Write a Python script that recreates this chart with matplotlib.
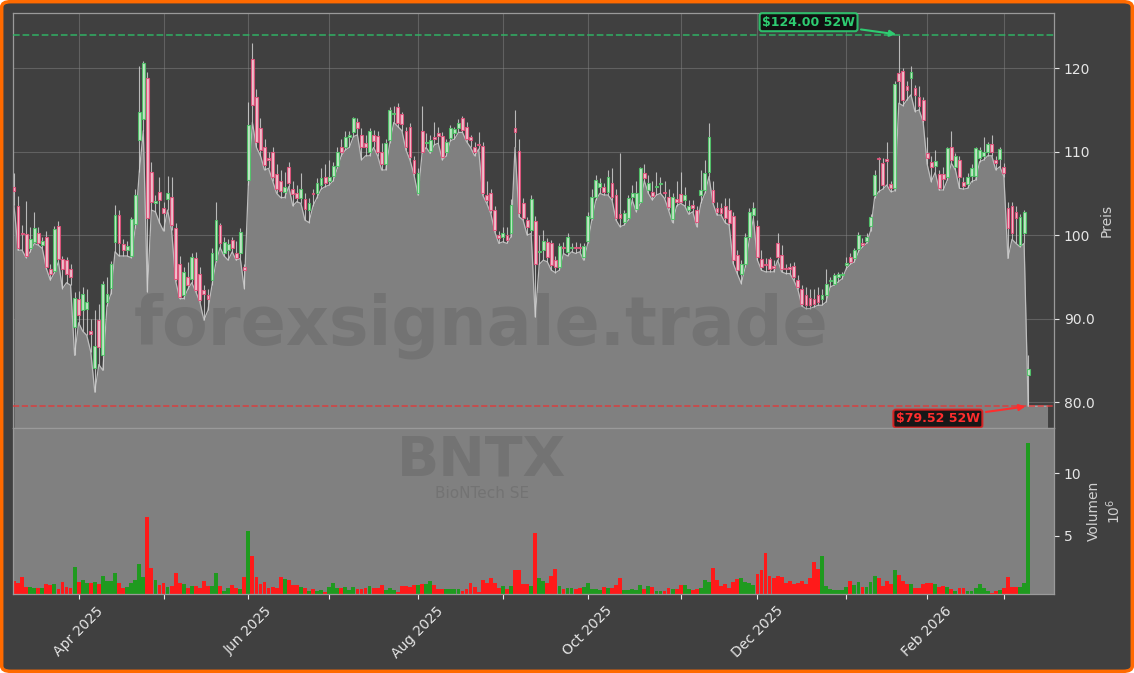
import numpy as np
import pandas as pd
import matplotlib
matplotlib.use('Agg')
import matplotlib.pyplot as plt
from matplotlib.patches import FancyBboxPatch

# BNTX daily candles, 52 weeks
holidays = ['2025-04-18', '2025-05-26', '2025-06-19', '2025-07-04', '2025-09-01',
            '2025-11-27', '2025-12-25', '2026-01-01', '2026-01-19', '2026-02-16']
dates = pd.bdate_range('2025-03-10', '2026-03-10')
dates = dates[~dates.isin(pd.to_datetime(holidays))]

open_ = [105.8, 103.5, 100.3, 100.1, 98.4, 99.2, 100.3, 98.8, 99.8, 95.9,
         95.7, 101.1, 97.1, 97.0, 95.9, 89.0, 92.3, 91.0, 91.2, 88.5,
         84.1, 89.8, 85.6, 92.0, 93.7, 99.2, 102.4, 98.9, 98.2, 97.5,
         101.3, 111.4, 113.9, 118.8, 107.6, 103.9, 105.2, 103.2, 104.3, 104.6,
         100.8, 96.6, 92.8, 95.0, 94.8, 97.2, 95.4, 93.4, 92.8, 94.6,
         97.0, 101.2, 97.8, 98.2, 99.4, 97.8, 97.8, 96.2, 106.6, 121.1,
         116.5, 112.8, 110.6, 109.2, 110.0, 107.3, 106.5, 105.2, 108.2, 105.5,
         105.0, 104.4, 104.3, 103.0, 105.1, 105.0, 106.0, 106.9, 106.5, 107.1,
         108.3, 110.6, 110.6, 111.7, 112.3, 113.6, 112.0, 111.0, 110.0, 112.0,
         111.9, 110.0, 108.5, 111.4, 114.5, 115.4, 114.5, 112.5, 113.0, 109.0,
         105.0, 112.5, 111.0, 110.1, 111.7, 112.2, 111.9, 109.9, 111.6, 112.2,
         112.8, 114.0, 113.0, 111.8, 110.5, 110.9, 110.7, 104.8, 105.0, 103.0,
         100.0, 99.8, 100.0, 100.3, 112.8, 110.1, 103.8, 101.8, 100.6, 101.7,
         98.0, 98.2, 99.2, 99.0, 97.0, 96.2, 98.6, 98.0, 98.5, 98.6,
         98.6, 97.4, 99.3, 102.1, 104.6, 105.8, 105.8, 105.2, 106.3, 104.8,
         102.5, 101.6, 102.0, 104.6, 103.1, 104.0, 107.4, 105.4, 105.2, 105.8,
         106.1, 105.2, 104.6, 101.9, 104.3, 104.9, 104.2, 103.0, 103.6, 103.0,
         104.8, 105.4, 107.6, 105.4, 103.3, 103.3, 103.5, 103.0, 102.3, 97.6,
         95.4, 96.6, 99.8, 102.4, 101.1, 97.1, 96.5, 97.1, 96.3, 99.0,
         97.6, 96.1, 96.2, 96.3, 94.6, 93.6, 92.8, 92.5, 92.4, 92.8,
         92.4, 92.8, 94.5, 94.2, 95.0, 95.2, 96.4, 97.4, 97.2, 98.3,
         99.1, 99.3, 101.1, 104.8, 109.2, 108.6, 109.1, 106.1, 105.6, 119.4,
         119.6, 117.8, 118.8, 117.6, 116.6, 116.2, 109.8, 108.8, 108.3, 107.3,
         107.3, 107.0, 110.6, 108.2, 109.0, 106.4, 106.1, 107.1, 107.1, 109.2,
         109.5, 110.0, 110.9, 109.0, 109.1, 108.2, 103.2, 103.5, 102.8, 98.8,
         100.2, 83.2]

high = [107.4, 104.7, 101.2, 104.1, 101.0, 102.8, 101.0, 99.8, 100.5, 96.5,
        101.1, 101.7, 97.5, 97.4, 96.5, 93.2, 93.3, 93.8, 93.5, 90.0,
        91.0, 91.8, 94.5, 95.0, 96.9, 103.6, 103.0, 99.5, 99.3, 102.2,
        105.5, 120.2, 120.8, 119.5, 108.8, 104.8, 107.0, 104.0, 107.1, 107.0,
        101.5, 97.5, 96.2, 96.8, 97.9, 98.0, 96.2, 94.0, 93.5, 98.5,
        104.0, 101.5, 99.8, 99.5, 99.8, 99.3, 100.8, 96.6, 116.0, 123.0,
        117.5, 114.0, 111.5, 110.0, 110.5, 108.5, 107.8, 107.5, 108.8, 106.5,
        106.0, 107.4, 105.0, 104.5, 105.5, 106.8, 108.0, 108.5, 109.0, 108.8,
        110.5, 111.5, 112.5, 112.5, 114.2, 114.0, 112.8, 112.0, 112.8, 112.6,
        112.5, 111.0, 111.5, 115.3, 115.5, 115.8, 114.8, 113.0, 113.4, 109.5,
        108.0, 115.5, 112.2, 112.0, 113.5, 113.0, 112.3, 111.5, 113.2, 113.0,
        113.9, 114.3, 113.5, 112.0, 111.2, 112.3, 111.2, 106.5, 105.5, 103.5,
        100.5, 101.0, 101.0, 104.3, 115.0, 111.5, 104.5, 102.2, 104.8, 102.3,
        100.0, 100.6, 99.6, 99.4, 97.5, 99.0, 99.2, 100.3, 99.0, 99.2,
        99.0, 99.0, 102.8, 105.5, 107.2, 106.8, 106.3, 107.8, 108.0, 105.5,
        109.8, 103.0, 104.8, 106.0, 106.5, 108.2, 108.5, 107.2, 106.5, 107.5,
        107.0, 106.5, 105.5, 105.0, 106.5, 107.5, 105.8, 104.2, 104.2, 103.5,
        107.8, 109.0, 113.4, 106.5, 104.0, 103.8, 104.5, 104.5, 102.8, 98.2,
        97.0, 100.2, 103.2, 104.0, 101.8, 98.2, 97.2, 97.4, 97.0, 100.3,
        98.8, 96.5, 96.7, 96.8, 95.2, 94.0, 93.8, 93.5, 93.6, 93.8,
        93.6, 96.0, 95.0, 95.5, 95.6, 95.6, 97.4, 97.9, 98.5, 100.4,
        99.6, 100.2, 102.5, 107.8, 109.4, 109.2, 111.2, 106.5, 118.5, 124.0,
        120.0, 118.5, 120.2, 118.0, 117.8, 116.6, 111.8, 109.5, 110.2, 107.8,
        108.2, 110.5, 112.5, 109.8, 109.5, 107.0, 107.4, 108.5, 110.6, 110.5,
        111.8, 111.2, 112.0, 109.5, 110.6, 108.6, 104.0, 104.0, 103.5, 102.5,
        103.0, 85.6]

low = [103.6, 98.2, 98.2, 97.3, 98.0, 99.0, 98.8, 98.4, 96.0, 94.6,
       95.5, 96.8, 93.6, 94.3, 94.0, 85.6, 89.5, 88.5, 88.0, 86.0,
       81.2, 84.5, 83.8, 91.5, 93.0, 98.0, 97.5, 97.5, 97.5, 97.3,
       100.8, 107.5, 112.5, 93.2, 103.0, 102.8, 101.5, 100.5, 103.0, 100.6,
       94.5, 92.4, 92.4, 93.5, 94.3, 93.2, 92.0, 89.8, 91.0, 94.0,
       96.8, 98.5, 97.5, 97.0, 98.0, 97.0, 97.2, 93.6, 106.0, 113.5,
       110.5, 109.5, 107.8, 108.0, 106.5, 105.0, 104.5, 104.5, 105.8, 103.5,
       104.0, 103.8, 101.8, 101.5, 103.5, 104.5, 105.5, 105.8, 106.0, 106.5,
       108.0, 109.5, 110.2, 110.5, 111.8, 112.0, 109.0, 109.5, 109.5, 110.5,
       109.5, 107.8, 107.8, 111.0, 113.5, 113.0, 112.5, 110.2, 109.0, 107.2,
       104.8, 109.8, 110.5, 109.8, 110.8, 111.0, 109.0, 109.5, 111.3, 111.5,
       112.3, 112.3, 111.2, 110.5, 109.5, 110.3, 104.8, 103.8, 102.6, 100.4,
       99.0, 99.2, 99.0, 99.8, 110.5, 102.2, 101.8, 100.0, 100.2, 90.2,
       96.5, 97.0, 96.8, 95.8, 95.5, 95.8, 97.8, 97.5, 98.0, 97.8,
       98.0, 97.0, 99.0, 101.8, 104.2, 105.0, 104.8, 104.8, 104.2, 101.8,
       101.0, 101.2, 101.8, 104.2, 102.8, 103.8, 106.5, 105.0, 104.2, 104.8,
       105.0, 104.4, 103.0, 101.5, 103.5, 103.8, 103.5, 102.5, 102.8, 101.0,
       103.8, 105.0, 107.0, 103.8, 102.4, 102.4, 101.5, 101.2, 96.6, 95.4,
       94.2, 96.2, 99.5, 102.0, 97.0, 95.8, 95.6, 95.6, 95.6, 97.0,
       95.6, 95.4, 95.4, 94.6, 93.5, 91.5, 91.2, 91.2, 91.4, 91.6,
       91.6, 92.0, 93.8, 94.0, 94.4, 94.8, 96.0, 96.5, 96.8, 98.0,
       98.6, 99.0, 100.5, 104.5, 105.2, 105.5, 106.0, 105.2, 105.3, 115.8,
       115.5, 116.2, 116.8, 114.8, 115.0, 113.6, 108.5, 106.4, 107.5, 105.4,
       105.4, 106.6, 108.6, 107.8, 105.6, 105.5, 105.6, 106.4, 106.6, 108.8,
       109.0, 109.5, 109.5, 107.8, 108.2, 107.0, 97.2, 99.5, 99.0, 98.6,
       99.0, 79.52]

close = [105.3, 98.4, 100.1, 97.5, 99.5, 100.8, 99.0, 99.3, 96.2, 95.4,
         100.7, 97.1, 95.9, 95.4, 95.0, 92.5, 90.4, 93.0, 92.0, 88.2,
         86.7, 86.6, 94.2, 93.0, 96.6, 102.4, 99.0, 98.2, 98.7, 101.9,
         104.8, 114.8, 120.6, 102.0, 104.0, 104.1, 104.2, 102.6, 105.0, 101.2,
         94.8, 92.6, 95.6, 94.0, 97.4, 93.4, 92.2, 93.0, 92.4, 97.8,
         101.8, 99.0, 99.2, 98.9, 98.4, 97.3, 100.4, 95.8, 113.2, 115.6,
         111.1, 110.2, 108.4, 109.0, 107.0, 105.5, 105.3, 105.8, 106.2, 104.9,
         104.4, 105.5, 103.1, 103.8, 104.9, 106.2, 106.8, 106.3, 107.0, 108.3,
         110.0, 110.0, 111.7, 112.0, 114.0, 112.8, 110.5, 110.5, 112.5, 111.3,
         110.0, 108.5, 111.0, 115.0, 114.6, 113.4, 113.3, 110.6, 109.4, 107.4,
         107.4, 110.0, 111.2, 111.4, 111.5, 111.9, 109.4, 111.1, 112.8, 112.7,
         113.4, 112.6, 111.5, 111.4, 110.0, 110.8, 105.0, 104.2, 103.0, 100.6,
         99.6, 100.2, 99.4, 103.6, 112.4, 102.7, 102.1, 101.0, 104.3, 96.6,
         98.0, 99.3, 97.4, 96.4, 96.2, 98.7, 98.5, 99.8, 98.6, 98.4,
         98.4, 98.7, 102.3, 104.6, 106.6, 106.2, 105.2, 107.0, 104.6, 102.1,
         102.0, 102.6, 104.4, 105.0, 105.0, 108.0, 106.8, 106.2, 104.7, 105.9,
         106.1, 105.0, 103.4, 104.6, 104.0, 104.0, 104.8, 103.5, 103.2, 101.6,
         105.4, 107.4, 111.8, 104.0, 102.8, 102.6, 102.0, 101.4, 97.0, 95.8,
         96.6, 99.8, 102.8, 103.2, 97.4, 96.2, 96.4, 96.0, 96.1, 97.4,
         96.0, 95.9, 96.0, 95.0, 93.8, 91.8, 91.6, 91.6, 91.8, 92.0,
         92.8, 94.2, 94.6, 95.2, 95.4, 95.4, 96.7, 96.8, 98.2, 100.0,
         98.8, 99.8, 102.2, 107.2, 109.1, 106.0, 108.9, 105.6, 118.1, 118.5,
         116.2, 117.4, 119.5, 116.8, 115.5, 113.8, 109.2, 108.2, 108.9, 105.6,
         106.7, 110.4, 109.0, 109.5, 107.0, 105.9, 107.0, 108.0, 110.4, 110.2,
         110.0, 110.9, 110.0, 108.6, 110.3, 107.4, 100.8, 100.2, 102.0, 102.2,
         102.8, 84.0]

# volume in millions of shares
volume = [1.37, 1.24, 1.72, 0.92, 0.92, 0.85, 0.85, 0.78, 1.15, 1.05,
          1.15, 0.73, 1.30, 0.87, 0.78, 2.50, 1.30, 1.45, 1.18, 1.24,
          1.30, 1.15, 1.78, 1.37, 1.37, 1.99, 1.24, 0.85, 0.92, 1.18,
          1.45, 2.77, 1.72, 6.50, 2.40, 1.45, 1.05, 1.24, 0.92, 1.00,
          2.05, 1.18, 1.10, 0.85, 0.97, 0.97, 0.85, 1.37, 0.97, 0.97,
          2.05, 0.97, 0.60, 0.78, 1.05, 0.78, 0.70, 1.72, 5.35, 3.35,
          1.72, 1.10, 1.30, 0.85, 0.92, 0.78, 1.72, 1.50, 1.45, 1.05,
          1.05, 0.87, 0.78, 0.60, 0.70, 0.57, 0.65, 0.52, 0.92, 1.18,
          0.78, 0.78, 0.92, 0.65, 0.87, 0.73, 0.70, 0.78, 0.97, 0.78,
          0.78, 1.05, 0.65, 0.78, 0.65, 0.52, 0.97, 0.97, 0.92, 1.05,
          1.05, 1.15, 1.15, 1.37, 1.05, 0.73, 0.73, 0.70, 0.70, 0.70,
          0.70, 0.60, 0.73, 1.18, 0.92, 0.52, 1.45, 1.24, 1.58, 1.18,
          0.78, 0.97, 0.70, 0.97, 2.25, 2.25, 1.15, 1.15, 0.97, 5.20,
          1.58, 1.37, 1.18, 1.78, 2.33, 0.97, 0.70, 0.85, 0.78, 0.73,
          0.85, 0.92, 1.24, 0.70, 0.70, 0.65, 0.87, 0.85, 0.85, 1.05,
          1.63, 0.65, 0.65, 0.70, 0.65, 1.05, 0.70, 1.00, 0.87, 0.60,
          0.60, 0.60, 0.78, 0.70, 0.70, 1.05, 1.05, 0.70, 0.65, 0.70,
          0.78, 1.45, 1.32, 2.38, 1.45, 0.97, 1.15, 0.78, 1.32, 1.52,
          1.58, 1.32, 1.18, 1.05, 1.90, 2.25, 3.60, 1.78, 1.58, 1.78,
          1.72, 1.18, 1.37, 1.15, 1.24, 1.37, 1.15, 1.58, 2.90, 2.33,
          3.35, 0.97, 0.70, 0.65, 0.65, 0.65, 0.87, 1.37, 1.05, 1.26,
          0.92, 0.92, 1.32, 1.78, 1.58, 0.97, 1.37, 1.15, 2.25, 1.85,
          1.40, 1.10, 1.10, 0.78, 0.78, 1.10, 1.18, 1.18, 1.10, 0.92,
          0.97, 0.92, 0.70, 0.57, 0.78, 0.78, 0.57, 0.57, 0.78, 1.10,
          0.78, 0.57, 0.45, 0.60, 0.65, 0.78, 1.72, 0.92, 0.92, 0.92,
          1.24, 12.40]

price_ticks = [80, 90, 100, 110, 120]
price_tick_labels = ['80.0', '90.0', '100', '110', '120']
high_52w = 124.00
low_52w = 79.52

o = np.array(open_); h = np.array(high); l = np.array(low); c = np.array(close)
v = np.array(volume)
x = np.arange(len(dates))
up = c >= o

BG = '#404040'
TXT = '#e6e6e6'
W, H = 1134, 673

fig = plt.figure(figsize=(W / 100, H / 100), dpi=100, facecolor='white')
fig.patches.append(FancyBboxPatch((0.0015, 0.0025), 0.997, 0.995,
                                  boxstyle='round,pad=0,rounding_size=0.008',
                                  transform=fig.transFigure, facecolor=BG,
                                  edgecolor='#ff6a00', linewidth=2.5, zorder=-10))

ax = fig.add_axes([13 / W, 1 - 428 / H, (1054 - 13) / W, (428 - 13) / H])
axv = fig.add_axes([13 / W, 1 - 594 / H, (1054 - 13) / W, (594 - 428) / H], sharex=ax)

# --- price panel
ax.set_facecolor(BG)
ax.set_axisbelow(True)
ymin, ymax = 76.9, 126.6
xs = np.append(x, x[-1] + 4.8)
ys = np.append(l, l[-1])
ax.fill_between(xs, ys, ymin, color='#808080', zorder=1, lw=0)
ax.plot(xs, ys, color='#bdbdbd', lw=0.9, zorder=2)

ax.vlines(x, l, h, color='#cfcfcf', lw=0.8, zorder=3, alpha=0.85)
body_lo = np.minimum(o, c)
body_h = np.maximum(np.abs(c - o), 0.12)
face = np.where(up, '#c6efcb', '#f9c6d3')
edge = np.where(up, '#4cc466', '#e2507a')
ax.bar(x, body_h, bottom=body_lo, width=0.7, color=face, edgecolor=edge,
       linewidth=0.8, zorder=4, alpha=0.9)

ax.axhline(high_52w, color='#2fb866', ls='--', lw=1.3, alpha=0.8, zorder=5)
ax.axhline(low_52w, color='#e03a3a', ls='--', lw=1.2, alpha=0.85, zorder=5)

i_hi = int(np.argmax(h)); i_lo = int(np.argmin(l))
ax.annotate('\\$%.2f 52W' % high_52w, xy=(i_hi, high_52w), xytext=(-65, 9),
            textcoords='offset points', ha='center', va='center', fontsize=9,
            fontweight='bold', color='#2ecc71', zorder=6,
            bbox=dict(boxstyle='round,pad=0.2', fc='#0c0c0c', ec='#2ecc71', lw=1.5, alpha=0.9),
            arrowprops=dict(arrowstyle='-|>', color='#2ecc71', lw=1.5))
ax.annotate('\\$%.2f 52W' % low_52w, xy=(i_lo, low_52w), xytext=(-65, -9),
            textcoords='offset points', ha='center', va='center', fontsize=9,
            fontweight='bold', color='#ff2d2d', zorder=6,
            bbox=dict(boxstyle='round,pad=0.2', fc='#0c0c0c', ec='#e02020', lw=1.5, alpha=0.9),
            arrowprops=dict(arrowstyle='-|>', color='#ff2d2d', lw=1.5))

ax.set_ylim(ymin, ymax)
ax.set_xlim(-0.25, 257.4)
ax.yaxis.tick_right()
ax.yaxis.set_label_position('right')
ax.set_yticks(price_ticks)
ax.set_yticklabels(price_tick_labels)
ax.set_ylabel('Preis', color='#d0d0d0', fontsize=10)
ax.tick_params(axis='y', colors=TXT, labelsize=10)
ax.tick_params(axis='x', bottom=False, labelbottom=False)
ax.grid(True, color='#8a8a8a', alpha=0.45, lw=0.8)
for s in ax.spines.values():
    s.set_color('#9a9a9a'); s.set_linewidth(0.9)

# --- volume panel
axv.set_facecolor('#808080')
axv.bar(x, v, width=0.95, color=np.where(up, '#1f9a1f', '#ff1a1a'), lw=0)
axv.set_ylim(0.33, v.max() * 1.1)
axv.yaxis.tick_right()
axv.yaxis.set_label_position('right')
axv.set_yticks([5, 10])
axv.set_ylabel('Volumen\n$10^{6}$', color='#d0d0d0', fontsize=10)
axv.tick_params(axis='y', colors=TXT, labelsize=10)
for s in axv.spines.values():
    s.set_color('#9a9a9a'); s.set_linewidth(0.9)

# month ticks, every second month labelled
month_starts = [i for i in range(1, len(dates)) if dates[i].month != dates[i - 1].month]
labels = [dates[i].strftime('%b %Y') if k % 2 == 0 else '' for k, i in enumerate(month_starts)]
axv.set_xticks(month_starts)
axv.set_xticklabels(labels, rotation=45)
axv.tick_params(axis='x', colors=TXT, labelsize=10)

# watermarks
fig.text(481 / W, 1 - 326 / H, 'forexsignale.trade', fontsize=48, fontweight='bold',
         color='#404040', alpha=0.2, ha='center', va='center')
fig.text(482 / W, 1 - 460 / H, 'BNTX', fontsize=40, fontweight='bold',
         color='#404040', alpha=0.2, ha='center', va='center')
fig.text(482 / W, 1 - 494 / H, 'BioNTech SE', fontsize=11,
         color='#404040', alpha=0.2, ha='center', va='center')

fig.savefig('out.png', dpi=100, facecolor=fig.get_facecolor())
